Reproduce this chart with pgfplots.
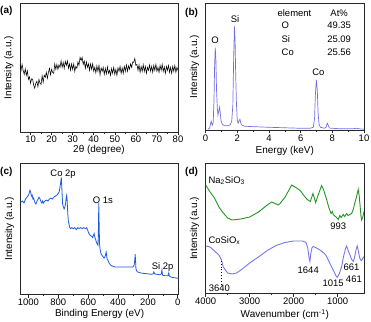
\documentclass[border=0pt]{standalone}
\usepackage{fontspec}
\setmainfont{Liberation Sans}
\usepackage{pgfplots}
\pgfplotsset{compat=1.18}
\definecolor{edsblue}{RGB}{112,112,228}
\definecolor{xpsblue}{RGB}{30,90,225}
\definecolor{irgreen}{RGB}{34,150,34}
\definecolor{irblue}{RGB}{118,118,236}
\definecolor{frame}{RGB}{40,40,40}

\tikzset{ann/.style={font=\fontsize{9.5}{11}\selectfont, inner sep=0pt}}
\pgfplotsset{
  panel/.style={
    scale only axis,
    anchor=north west,
    axis line style={line width=0.7pt, frame},
    ymajorticks=false, yminorticks=false,
    ymin=0,
    xtick pos=left,
    tick align=outside,
    major tick length=3bp,
    minor tick length=1.8bp,
    minor x tick num=1,
    every tick/.style={frame, line width=0.6pt},
    tick label style={font=\fontsize{9.5}{11}\selectfont},
    xticklabel style={inner sep=1bp},
    label style={font=\fontsize{10.5}{12}\selectfont},
    ylabel={Intensity (a.u.)},
    every axis y label/.style={at={(axis description cs:-0.04,0.5)}, rotate=90, anchor=south, inner sep=0pt},
    /pgf/number format/assume math mode=true,
    /pgf/number format/1000 sep={},
    scaled x ticks=false,
  },
  xlab/.style={every axis x label/.style={at={(axis description cs:0.5,0)}, anchor=north, inner sep=0pt, yshift=#1}},
}

\begin{document}
\begin{tikzpicture}
\useasboundingbox (0,0) rectangle (371bp,-322bp);

% (a) XRD
\begin{axis}[panel, at={(20bp,-3.3bp)}, width=158bp, height=128.7bp,
  xmin=5, xmax=80, ymax=129.4, xtick={10,20,...,80},
  xlabel={2θ (degree)}, xlab=-13.5bp]
\addplot[black, line width=0.55pt] coordinates {
(5.0,68) (5.5,62) (6.0,68) (6.5,62) (7.0,58) (7.5,63.5) (8.0,57) (8.5,61.5) (9.0,53) (9.5,55.5)
(10.0,49) (10.5,53.5) (11.0,53) (11.5,47) (12.0,44) (12.5,49) (13.0,51) (13.5,45.5) (14.0,53) (14.5,49)
(15.0,48) (15.5,56.5) (16.0,50) (16.5,57) (17.0,55) (17.5,60) (18.0,54) (18.5,60) (19.0,64) (19.5,57.5)
(20.0,63) (20.5,60) (21.0,59) (21.5,68.5) (22.0,63) (22.5,68) (23.0,63) (23.5,67.5) (24.0,65) (24.5,71.5)
(25.0,65) (25.5,70) (26.0,64) (26.5,71) (27.0,67) (27.5,71.5) (28.0,64) (28.5,68.5) (29.0,62) (29.5,68.5)
(30.0,63) (30.5,68.5) (31.0,61) (31.5,66) (32.0,64) (32.5,70.5) (33.0,67) (33.5,75) (34.0,72) (34.5,75)
(35.0,68) (35.5,71.5) (36.0,64) (36.5,70.5) (37.0,65) (37.5,68.5) (38.0,62) (38.5,68.5) (39.0,63) (39.5,68.5)
(40.0,61) (40.5,65) (41.0,59.5) (41.5,66.5) (42.0,61) (42.5,67) (43.0,57.5) (43.5,64.5) (44.0,61) (44.5,65)
(45.0,58) (45.5,64) (46.0,58.5) (46.5,65.5) (47.0,59) (47.5,62) (48.0,57) (48.5,64) (49.0,59) (49.5,65)
(50.0,58) (50.5,63) (51.0,57) (51.5,64.5) (52.0,61) (52.5,66) (53.0,59) (53.5,64.5) (54.0,59) (54.5,66)
(55.0,61) (55.5,67.5) (56.0,61) (56.5,66.5) (57.0,63) (57.5,68.5) (58.0,65) (58.5,70.5) (59.0,70) (59.5,74)
(60.0,67) (60.5,68) (61.0,62) (61.5,67.5) (62.0,60) (62.5,66) (63.0,61) (63.5,67.5) (64.0,61) (64.5,66)
(65.0,59) (65.5,65) (66.0,62) (66.5,67.5) (67.0,61) (67.5,66) (68.0,60) (68.5,67) (69.0,62) (69.5,68)
(70.0,61) (70.5,65) (71.0,60) (71.5,67) (72.0,62) (72.5,68) (73.0,61) (73.5,65.5) (74.0,59) (74.5,66)
(75.0,62) (75.5,67) (76.0,60) (76.5,65) (77.0,59) (77.5,66) (78.0,61) (78.5,67) (79.0,60) (79.5,65)
(80.0,62)
};
\end{axis}

% (b) EDS
\begin{axis}[panel, at={(205.6bp,-3.3bp)}, width=158.4bp, height=127bp,
  xmin=0, xmax=10, ymax=126, xtick={0,2,...,10},
  xlabel={Energy (keV)}, xlab=-15.5bp]
\addplot[edsblue, line width=0.7pt] coordinates {
(0.15,1) (0.25,2) (0.35,9) (0.42,5) (0.48,8) (0.53,30) (0.57,65) (0.61,82) (0.65,70) (0.69,40)
(0.74,22) (0.78,15) (0.83,19) (0.88,23) (0.92,18) (0.97,10) (1.05,6) (1.2,4.5) (1.4,4.5) (1.55,5.5)
(1.65,9) (1.72,25) (1.77,70) (1.82,103) (1.86,90) (1.9,55) (1.95,25) (2.0,10) (2.05,7) (2.12,10)
(2.17,11) (2.22,7) (2.3,5) (2.5,4) (3.0,3.6) (4.0,3) (5.0,2.5) (6.0,2) (6.6,2) (6.8,3)
(6.88,12) (6.93,35) (6.99,50) (7.05,40) (7.1,18) (7.16,6) (7.25,3) (7.5,2) (7.6,3) (7.68,7)
(7.74,5) (7.82,2.2) (8.5,1.5) (9.3,1.5) (9.5,2) (9.7,1.5) (10,1)
};
\node[ann] at (axis cs:0.59,89) {O};
\node[ann] at (axis cs:1.86,110) {Si};
\node[ann] at (axis cs:7.12,58) {Co};
\node[ann] at (axis cs:5.61,116) {element};
\node[ann] at (axis cs:8.43,116) {At\%};
\node[ann, anchor=west] at (axis cs:4.79,104) {O};
\node[ann, anchor=west] at (axis cs:4.79,90) {Si};
\node[ann, anchor=west] at (axis cs:4.79,77) {Co};
\node[ann] at (axis cs:8.43,104) {49.35};
\node[ann] at (axis cs:8.43,90) {25.09};
\node[ann] at (axis cs:8.43,77) {25.56};
\end{axis}

% (c) XPS
\begin{axis}[panel, at={(20.7bp,-163.3bp)}, width=157.8bp, height=131.2bp,
  x dir=reverse, xmin=-5, xmax=1052, ymax=133.4, xtick={0,200,...,1000},
  xlabel={Binding Energy (eV)}, xlab=-15bp]
\addplot[xpsblue, line width=0.8pt] coordinates {
(1058,92) (1050,94) (1040,95) (1030,93) (1020,97) (1010,99) (1000,101) (995,103) (990,106) (985,104)
(980,100) (975,101) (970,97) (965,98) (960,95) (955,93) (950,92) (945,94) (940,96) (935,97)
(930,99) (925,98) (920,96) (915,94) (910,93) (905,95) (900,93) (890,95) (880,96) (870,95)
(860,97) (850,98) (840,97) (830,99) (820,100) (810,101) (800,103) (795,104) (790,108) (785,113)
(780,119) (777,110) (774,100) (771,92) (766,89) (761,87) (756,89) (751,93) (747,99) (744,101)
(741,96) (737,83) (733,75) (728,71) (723,68) (718,67) (710,68) (700,67) (690,68) (680,66)
(670,68) (660,67) (650,68) (640,67) (630,68) (620,67) (610,68) (605,66) (600,64) (595,62)
(590,61) (585,60) (575,59) (570,58) (565,60) (560,62) (555,58) (550,56) (545,53) (538,51)
(534,50) (531,70) (529,93) (527,75) (524,52) (521,47) (518,44) (513,41) (508,40) (503,39)
(498,38) (493,37) (488,38) (483,41) (479,43) (476,39) (473,36) (468,35) (460,32) (450,30)
(440,29) (420,28) (400,28) (350,28) (320,28) (300,28) (292,30) (288,35) (285,41) (283,35)
(280,26) (275,24) (270,23) (260,22.5) (250,22) (230,21.5) (200,21) (180,20.5) (165,21) (160,23)
(155,21) (140,20.5) (120,20) (110,21) (106,25) (103,21) (100,19.5) (80,19) (65,19) (60,22)
(57,19) (50,18) (40,17.5) (20,17) (0,16.5) (-10,15.5) (-18,15)
};
\node[ann] at (axis cs:768,122) {Co 2p};
\node[ann] at (axis cs:501,96) {O 1s};
\node[ann] at (axis cs:101,28) {Si 2p};
\end{axis}

% (d) FTIR
\begin{axis}[panel, at={(205.7bp,-163.3bp)}, width=158.3bp, height=130.2bp,
  x dir=reverse, xmin=400, xmax=4000, ymax=130.2, xtick={1000,2000,3000,4000},
  xlabel={Wavenumber (cm\textsuperscript{-1})}, xlab=-15.5bp]
\addplot[irgreen, line width=0.9pt] coordinates {
(4000,108.5) (3900,101.5) (3800,95.5) (3700,86.5) (3600,80.5) (3500,75.5) (3400,73.5) (3200,74.5) (3000,76.5) (2800,81.5)
(2600,88.5) (2500,91.5) (2450,90.5) (2350,88.5) (2311,90) (2200,96) (2100,104) (2045,108.5) (1950,106) (1850,103)
(1750,97) (1690,94) (1620,92) (1560,100) (1500,91) (1430,100) (1364,108) (1320,104) (1250,94) (1200,86)
(1175,83) (1150,80) (1120,82) (1100,79) (1050,77) (1000,75) (986,74) (950,78) (920,76) (873,79)
(840,77) (795,80) (760,78) (720,79) (680,80) (645,84) (600,92) (568,97) (532,104) (510,98)
(493,90) (470,78) (455,73.5) (430,76) (400,82)
};
\addplot[irblue, line width=0.9pt] coordinates {
(4000,47.5) (3900,46.5) (3800,42.5) (3700,38.5) (3640,33.5) (3600,26.5) (3500,20.5) (3400,19.5) (3300,20.5) (3200,23.5)
(3000,30.5) (2800,36.5) (2600,43) (2400,48) (2200,51) (2000,52.5) (1800,52.5) (1720,51) (1680,46) (1650,36)
(1630,32) (1610,40) (1580,46) (1555,47) (1500,46) (1402,43.5) (1300,40) (1250,37) (1175,30) (1100,23.5)
(1040,18) (1009,16) (960,20) (909,27) (860,38) (820,45) (795,47.5) (760,43) (720,38.5) (680,34)
(640,32) (610,37) (580,44) (555,47.5) (530,43) (500,36) (477,33.5) (455,33) (430,35) (400,37)
};
\draw[black, dotted, line width=0.9pt] (axis cs:3640,8.7) -- (axis cs:3640,33.5);
\node[ann, anchor=west] at (axis cs:3939,113) {Na\textsubscript{2}SiO\textsubscript{3}};
\node[ann, anchor=west] at (axis cs:3939,53) {CoSiO\textsubscript{x}};
\node[ann] at (axis cs:986,67.5) {993};
\node[ann] at (axis cs:1668,23.5) {1644};
\node[ann] at (axis cs:1100,10) {1015};
\node[ann] at (axis cs:682,26) {661};
\node[ann] at (axis cs:630,14) {461};
\node[ann] at (axis cs:3691,5.2) {3640};
\end{axis}

\node[font=\bfseries\fontsize{10}{12}\selectfont, anchor=west, inner sep=0pt] at (0bp,-10.5bp) {(a)};
\node[font=\bfseries\fontsize{10}{12}\selectfont, anchor=west, inner sep=0pt] at (185bp,-12.7bp) {(b)};
\node[font=\bfseries\fontsize{10}{12}\selectfont, anchor=west, inner sep=0pt] at (0bp,-172bp) {(c)};
\node[font=\bfseries\fontsize{10}{12}\selectfont, anchor=west, inner sep=0pt] at (185bp,-172bp) {(d)};
\end{tikzpicture}
\end{document}
